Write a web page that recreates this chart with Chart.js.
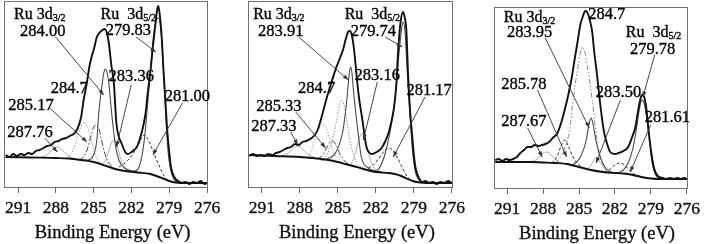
<!DOCTYPE html>
<html>
<head>
<meta charset="utf-8">
<script src="https://cdn.jsdelivr.net/npm/chart.js@4.4.0/dist/chart.umd.min.js"></script>
<style>
  html, body { margin: 0; padding: 0; background: #fff; }
  #wrap { position: relative; width: 705px; height: 244px; }
  .panel { position: absolute; top: 0; width: 235px; height: 244px; }
  .panel canvas { display: block; }
</style>
</head>
<body>
<div id="wrap">
  <div class="panel" style="left:0px"><canvas id="p1" width="235" height="244"></canvas></div>
  <div class="panel" style="left:235px"><canvas id="p2" width="235" height="244"></canvas></div>
  <div class="panel" style="left:470px"><canvas id="p3" width="235" height="244"></canvas></div>
</div>
<script>
// binding energy ticks (eV), axis runs high -> low
const xTicks = [291, 288, 285, 282, 279, 276];
const axisTitle = "Binding Energy (eV)";

// ---- panel 1 : [eV, intensity] ----
const p1Envelope = [[292.0,32],[291.7,30],[291.4,33],[291.1,31],[290.8,33],[290.5,32],[290.2,34],[289.9,33],[289.6,36],[289.3,37],[289.0,39],[288.7,41],[288.4,42],[288.1,45],[287.8,46],[287.5,48],[287.2,49],[286.9,51],[286.6,53],[286.3,58],[286.0,70],[285.8,87],[285.55,104],[285.35,120],[285.15,131],[285.0,137],[284.75,150],[284.55,154],[284.4,156],[284.15,158],[283.95,154],[283.8,144],[283.6,122],[283.4,104],[283.2,64],[283.0,50],[282.8,44],[282.5,35],[282.3,33],[282.1,34],[281.9,36],[281.7,38],[281.5,42],[281.2,54],[280.9,72],[280.7,95],[280.5,115],[280.3,140],[280.1,163],[279.95,178],[279.87,181],[279.75,172],[279.6,150],[279.45,115],[279.3,85],[279.15,55],[279.0,35],[278.85,19],[278.6,10],[278.3,6],[278.0,4],[277.7,5],[277.4,3],[277.1,5],[276.8,4],[276.5,6],[276.2,3],[276.0,4]];
const p1Background = [[292.0,30],[290.0,29.5],[288.0,29],[287.0,28.5],[286.0,27],[285.0,25],[284.0,21],[283.3,18],[282.5,16],[281.5,14.5],[280.5,13],[280.0,11],[279.5,8.5],[279.0,6],[278.5,4.5],[277.5,4],[276.0,4]];
const p1Ru52 = [[282.4,16],[281.8,16],[281.4,20],[281.0,45],[280.6,100],[280.3,145],[280.05,166],[279.85,169],[279.65,155],[279.45,115],[279.25,65],[279.05,30],[278.8,13],[278.5,6],[278.0,4]];
const p1Ru32 = [[286.0,27],[285.5,27],[285.1,30],[284.75,47],[284.6,74],[284.36,100],[284.2,114],[284.05,118],[283.9,112],[283.8,104],[283.6,77],[283.3,44],[283.0,27],[282.55,19],[282.0,16],[281.5,15]];
const p1Peak283 = [[284.5,22],[284.1,26],[283.8,36],[283.55,45],[283.35,47],[283.15,42],[282.9,30],[282.6,21],[282.2,17]];
const p1Peak281 = [[283.0,20],[282.6,23],[282.0,31],[281.5,41],[281.2,49],[281.0,52],[280.8,50],[280.45,41],[280.2,33],[279.9,24],[279.4,11],[279.0,6],[278.6,5]];
const p1Peak2847 = [[286.2,27],[285.8,30],[285.5,38],[285.2,52],[285.0,60],[284.8,62],[284.6,59],[284.4,48],[284.1,33],[283.8,24],[283.4,19]];
const p1Peak285 = [[287.2,29],[286.8,33],[286.4,45],[286.1,58],[285.8,65],[285.5,60],[285.2,47],[284.9,33],[284.5,24],[284.0,21]];
const p1Peak287 = [[289.2,29.5],[288.7,32],[288.3,37],[287.9,40],[287.5,37],[287.1,32],[286.6,28.5]];

// ---- panel 2 ----
const p2Envelope = [[292.0,31],[291.7,33],[291.4,31],[291.1,32],[290.8,31],[290.5,33],[290.2,32],[289.9,34],[289.6,35],[289.3,37],[289.0,39],[288.7,40],[288.4,43],[288.1,42],[287.8,45],[287.5,46],[287.2,48],[286.9,51],[286.6,57],[286.4,65],[286.2,74],[285.95,86],[285.7,97],[285.45,107],[285.2,117],[284.9,127],[284.6,137],[284.4,147],[284.2,155],[284.05,156],[283.9,152],[283.75,140],[283.6,122],[283.45,102],[283.3,86],[283.1,70],[282.9,52],[282.75,40],[282.5,34],[282.3,33],[282.1,34],[281.8,36],[281.5,40],[281.25,46],[281.0,54],[280.8,64],[280.6,77],[280.4,100],[280.24,137],[280.05,165],[279.85,175],[279.7,168],[279.6,158],[279.45,110],[279.3,76],[279.14,52],[279.0,32],[278.85,18],[278.6,9],[278.35,5],[278.1,6],[277.8,4],[277.5,5],[277.2,3],[276.9,5],[276.6,4],[276.3,6],[276.0,4]];
const p2Background = [[292.0,32],[290.0,31],[288.0,30],[287.0,29],[286.0,27.5],[285.0,25],[284.4,23],[283.5,20],[283.0,18],[282.0,15],[281.0,14],[280.5,13],[280.0,11],[279.5,8],[279.0,5.5],[278.5,4.5],[277.5,4],[276.0,4]];
const p2Ru52 = [[282.4,16],[282.0,15],[281.6,22],[281.3,32],[280.9,54],[280.5,87],[280.15,137],[279.95,160],[279.85,165],[279.7,155],[279.5,110],[279.3,70],[279.1,35],[278.9,16],[278.6,7],[278.2,5],[277.6,4]];
const p2Ru32 = [[286.3,27],[285.9,28],[285.2,34],[284.64,54],[284.4,75],[284.24,95],[284.1,114],[284.0,120],[283.9,115],[283.77,96],[283.46,60],[283.15,30],[282.6,19],[282.0,16],[281.5,15]];
const p2Peak283 = [[284.0,22],[283.7,30],[283.4,45],[283.1,54],[282.8,45],[282.5,30],[282.2,20],[281.8,16]];
const p2Peak281 = [[282.6,19],[282.2,22],[281.8,28],[281.4,35],[281.0,39],[280.7,37],[280.3,29],[279.9,19],[279.5,10],[279.0,6],[278.6,5]];
const p2Peak2847 = [[286.4,27],[286.0,30],[285.6,40],[285.2,60],[284.95,78],[284.7,87],[284.45,78],[284.2,58],[283.9,38],[283.5,24],[283.0,19]];
const p2Peak285 = [[286.6,28],[286.2,32],[285.85,40],[285.6,45],[285.4,46],[285.15,42],[284.8,32],[284.4,25],[284.0,22]];
const p2Peak286 = [[287.3,30],[287.0,40],[286.7,54],[286.4,60],[286.1,62],[285.8,55],[285.5,40],[285.1,30],[284.7,26]];
const p2Peak287 = [[289.4,31],[288.9,34],[288.5,39],[288.2,41],[287.8,38],[287.4,33],[286.9,30]];

// ---- panel 3 ----
const p3Envelope = [[292.0,28],[291.7,29],[291.4,27],[291.1,29],[290.8,28],[290.5,29],[290.2,31],[289.9,35],[289.6,38],[289.3,41],[289.0,41],[288.7,43],[288.4,42],[288.1,43],[287.8,44],[287.5,46],[287.2,50],[286.8,55],[286.5,65],[286.2,78],[285.9,93],[285.6,111],[285.35,130],[285.1,148],[284.9,163],[284.7,171],[284.55,176],[284.4,177],[284.25,174],[284.1,168],[283.9,156],[283.75,138],[283.5,113],[283.3,91],[283.1,71],[282.9,55],[282.6,42],[282.4,36],[282.0,34],[281.7,35],[281.3,37],[280.9,41],[280.6,50],[280.3,61],[280.1,75],[279.9,88],[279.75,93],[279.6,92],[279.4,81],[279.2,58],[279.0,38],[278.8,23],[278.6,15],[278.3,11],[278.0,10],[277.7,9],[277.4,10],[277.1,9],[276.8,10],[276.5,9],[276.2,10],[276.0,9]];
const p3Background = [[292.0,26],[289.0,26],[288.0,25.5],[287.0,25],[286.0,24],[285.5,22.5],[285.0,21],[284.0,18],[283.0,16],[282.0,15],[281.3,14.5],[280.5,13],[279.8,11],[279.0,9.5],[278.2,9],[276.0,9]];
const p3Ru52 = [[281.8,15],[281.3,18],[280.9,25],[280.5,40],[280.2,60],[279.95,80],[279.75,88],[279.55,84],[279.35,70],[279.1,45],[278.9,25],[278.65,14],[278.3,10],[277.9,9.5]];
const p3Ru32 = [[285.6,23],[285.2,26],[284.8,33],[284.4,48],[284.15,65],[284.0,70],[283.85,65],[283.6,48],[283.2,30],[282.8,20],[282.3,16],[281.8,15]];
const p3Peak283 = [[284.4,18.5],[284.0,23],[283.6,30],[283.2,25],[282.8,18],[282.4,15.5]];
const p3Peak281 = [[282.9,16],[282.4,19],[282.0,23],[281.6,25],[281.2,23],[280.8,18],[280.4,14],[280.0,12]];
const p3Peak2847 = [[287.0,25],[286.6,30],[286.2,40],[285.8,57],[285.5,88],[285.1,121],[284.9,135],[284.72,141],[284.5,135],[284.3,121],[283.9,88],[283.5,48],[283.2,30],[282.8,20],[282.3,16]];
const p3Peak285 = [[287.3,25],[286.9,30],[286.5,42],[286.2,48],[285.9,42],[285.5,31],[285.1,24],[284.7,21]];
const p3Peak287 = [[289.0,26],[288.5,29],[288.1,34],[287.7,36],[287.3,33],[286.9,28],[286.4,25]];

// labels and arrows, anchored in eV / intensity
const p1Notes = [
  { ru: "Ru 3d", sub: "3/2", e: 289.28, i: 172 },
  { text: "284.00", e: 289.05, i: 155 },
  { ru: "Ru  3d", sub: "5/2", e: 282.25, i: 172 },
  { text: "279.83", e: 282.25, i: 156 },
  { text: "283.36", e: 282.02, i: 110 },
  { text: "284.7", e: 286.94, i: 98 },
  { text: "281.00", e: 277.56, i: 90 },
  { text: "285.17", e: 289.98, i: 81 },
  { text: "287.76", e: 290.06, i: 54 }
];
const p1Arrows = [[288.03,150,284.2,92],[281.63,150,280.06,135],[282.02,102,283.19,40],[277.95,84,280.3,32],[288.5,79,285.53,45],[288.89,49,287.88,35]];

const p2Notes = [
  { ru: "Ru 3d", sub: "3/2", e: 289.66, i: 172 },
  { text: "283.91", e: 289.51, i: 155 },
  { ru: "Ru  3d", sub: "5/2", e: 282.28, i: 172 },
  { text: "279.74", e: 282.2, i: 155 },
  { text: "283.16", e: 281.89, i: 111 },
  { text: "284.7", e: 286.68, i: 98 },
  { text: "281.17", e: 277.8, i: 96 },
  { text: "285.33", e: 289.66, i: 80 },
  { text: "287.33", e: 290.06, i: 60 }
];
const p2Arrows = [[288.09,150,284.17,107],[281.26,150,279.92,140],[281.89,105,282.99,47],[278.12,90,280.63,30],[288.33,75,285.97,39],[288.72,55,288.17,42]];

const p3Notes = [
  { ru: "Ru 3d", sub: "3/2", e: 289.13, i: 170 },
  { text: "283.95", e: 289.13, i: 155 },
  { text: "284.7", e: 282.69, i: 173 },
  { ru: "Ru  3d", sub: "5/2", e: 278.78, i: 155 },
  { text: "279.78", e: 278.86, i: 138 },
  { text: "285.78", e: 289.61, i: 103 },
  { text: "283.50", e: 281.71, i: 95 },
  { text: "287.67", e: 289.61, i: 66 },
  { text: "281.61", e: 277.63, i: 70 }
];
const p3Arrows = [[287.82,150,284.15,60],[278.69,133,279.67,91],[288.47,98,286.03,31],[281.55,88,283.58,25],[289.29,60,288.07,31],[279.02,63,280.73,16]];

const serif = "'Liberation Serif', 'Times New Roman', serif";

function curve(arr, color, width, dash) {
  return {
    data: arr.map(([e, v]) => ({ x: e, y: v })),
    borderColor: color,
    borderWidth: width,
    borderDash: dash || [],
    pointRadius: 0,
    fill: false,
    cubicInterpolationMode: "monotone"
  };
}

// text with a hairline stroke so it reads as heavy as the scanned figure
function heavyText(ctx, str, px, py) {
  ctx.fillText(str, px, py);
  ctx.strokeText(str, px, py);
}

// frame, arrows, peak labels and axis title
const framePlugin = {
  id: "frame",
  afterDatasetsDraw(chart, args, opts) {
    const { ctx, chartArea: a, scales: { x, y } } = chart;
    ctx.save();
    ctx.strokeStyle = "#707070";
    ctx.lineWidth = 1;
    ctx.strokeRect(Math.round(a.left) + 0.5, Math.round(a.top) + 0.5,
      Math.round(a.right - a.left), Math.round(a.bottom - a.top));

    ctx.strokeStyle = "#333";
    ctx.fillStyle = "#333";
    ctx.lineWidth = 0.9;
    opts.arrows.forEach(([e0, i0, e1, i1]) => {
      const x0 = x.getPixelForValue(e0), y0 = y.getPixelForValue(i0);
      const x1 = x.getPixelForValue(e1), y1 = y.getPixelForValue(i1);
      const ang = Math.atan2(y1 - y0, x1 - x0);
      ctx.beginPath();
      ctx.moveTo(x0, y0);
      ctx.lineTo(x1, y1);
      ctx.stroke();
      ctx.beginPath();
      ctx.moveTo(x1, y1);
      ctx.lineTo(x1 - 6 * Math.cos(ang - 0.35), y1 - 6 * Math.sin(ang - 0.35));
      ctx.lineTo(x1 - 6 * Math.cos(ang + 0.35), y1 - 6 * Math.sin(ang + 0.35));
      ctx.closePath();
      ctx.fill();
    });

    ctx.fillStyle = "#000";
    ctx.strokeStyle = "#000";
    ctx.lineWidth = 0.35;
    ctx.textBaseline = "middle";
    opts.notes.forEach(n => {
      const cx = x.getPixelForValue(n.e), cy = y.getPixelForValue(n.i);
      if (n.ru) {
        ctx.font = "16px " + serif;
        const w1 = ctx.measureText(n.ru).width;
        ctx.font = "10px " + serif;
        const w2 = ctx.measureText(n.sub).width;
        const x0 = cx - (w1 + w2) / 2;
        ctx.textAlign = "left";
        ctx.font = "16px " + serif;
        heavyText(ctx, n.ru, x0, cy);
        ctx.font = "10px " + serif;
        heavyText(ctx, n.sub, x0 + w1, cy + 3);
      } else {
        ctx.textAlign = "center";
        ctx.font = "16.5px " + serif;
        heavyText(ctx, n.text, cx, cy);
      }
    });

    const tx = (x.getPixelForValue(xTicks[0]) + x.getPixelForValue(xTicks[xTicks.length - 1])) / 2;
    ctx.textAlign = "center";
    ctx.textBaseline = "alphabetic";
    ctx.font = "18.5px " + serif;
    ctx.fillStyle = "#111";
    ctx.strokeStyle = "#111";
    heavyText(ctx, axisTitle, tx, a.bottom + 51);
    ctx.restore();
  }
};

function makePanel(id, datasets, yMax, pad, notes, arrows) {
  const axisHeight = 244 - pad.bottomEdge;
  new Chart(document.getElementById(id), {
    type: "line",
    data: { datasets },
    options: {
      responsive: false,
      animation: false,
      events: [],
      layout: { padding: { left: pad.left, right: pad.right, top: pad.top, bottom: 0 } },
      plugins: {
        legend: { display: false },
        tooltip: { enabled: false },
        frame: { notes, arrows }
      },
      scales: {
        x: {
          type: "linear",
          reverse: true,
          min: 276,
          max: 292.1,
          afterBuildTicks: s => { s.ticks = xTicks.map(v => ({ value: v })); },
          afterFit: s => { s.height = axisHeight; },
          grid: { drawOnChartArea: false, drawTicks: true, tickLength: 6, color: "#666" },
          border: { display: false },
          ticks: { padding: 5, color: "#111", autoSkip: false, maxRotation: 0,
                   textStrokeColor: "#111", textStrokeWidth: 0.35,
                   font: { family: serif, size: 17.5 } }
        },
        y: { display: false, min: 0, max: yMax }
      }
    },
    plugins: [framePlugin]
  });
}

function drawAll() {
  const dark = "#111", ruLine = "#4a4a4a", light = "#ababab";

  makePanel("p1", [
    curve(p1Envelope, dark, 1.9),
    curve(p1Background, dark, 1.9),
    curve(p1Ru52, ruLine, 1.1),
    curve(p1Ru32, ruLine, 1.1),
    curve(p1Peak283, light, 1),
    curve(p1Peak281, "#333", 1, [3, 2]),
    curve(p1Peak2847, "#444", 1, [6, 2, 1.5, 2]),
    curve(p1Peak285, "#999", 1, [1.5, 1.5]),
    curve(p1Peak287, light, 1)
  ], 186, { left: 1, right: 28, top: 1, bottomEdge: 187 }, p1Notes, p1Arrows);

  makePanel("p2", [
    curve(p2Envelope, dark, 1.9),
    curve(p2Background, dark, 1.9),
    curve(p2Ru52, ruLine, 1.1),
    curve(p2Ru32, ruLine, 1.1),
    curve(p2Peak283, light, 1),
    curve(p2Peak281, "#333", 1, [3, 2]),
    curve(p2Peak2847, "#999", 1, [1.5, 1.5]),
    curve(p2Peak285, "#444", 1, [6, 2, 1.5, 2]),
    curve(p2Peak286, light, 1, [1.5, 1.5]),
    curve(p2Peak287, light, 1)
  ], 186, { left: 13, right: 18, top: 1, bottomEdge: 187 }, p2Notes, p2Arrows);

  makePanel("p3", [
    curve(p3Envelope, dark, 1.9),
    curve(p3Background, dark, 1.9),
    curve(p3Ru52, ruLine, 1.1),
    curve(p3Ru32, ruLine, 1.1),
    curve(p3Peak283, light, 1),
    curve(p3Peak281, "#333", 1, [3, 2]),
    curve(p3Peak2847, "#888", 1, [5, 2, 1.5, 2, 1.5, 2]),
    curve(p3Peak285, "#333", 1, [3, 2]),
    curve(p3Peak287, light, 1)
  ], 181, { left: 24, right: 15, top: 7, bottomEdge: 188 }, p3Notes, p3Arrows);
}

Promise.all([
  document.fonts.load("16px 'Liberation Serif'"),
  document.fonts.load("19px 'Liberation Serif'")
]).catch(() => {}).then(drawAll);
</script>
</body>
</html>
